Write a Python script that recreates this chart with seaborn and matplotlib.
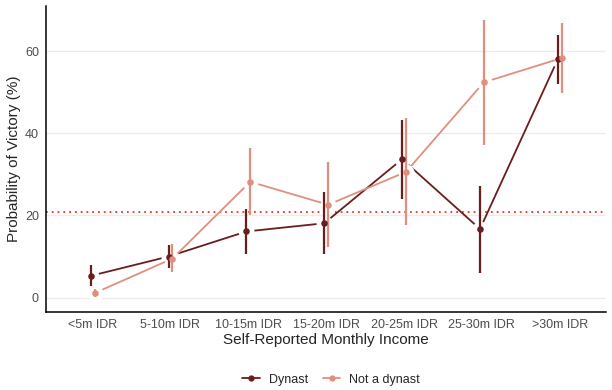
import matplotlib
matplotlib.use('Agg')
import matplotlib.pyplot as plt
from matplotlib.lines import Line2D
import seaborn as sns
import pandas as pd
import numpy as np

# Values
income = ['<5m IDR', '5-10m IDR', '10-15m IDR', '15-20m IDR',
          '20-25m IDR', '25-30m IDR', '>30m IDR']
groups = ['Dynast', 'Not a dynast']
dynast_est = [5.3, 10.0, 16.1, 18.1, 33.7, 16.7, 58.0]
dynast_lo = [2.8, 7.2, 10.6, 10.6, 24.1, 6.0, 52.0]
dynast_hi = [7.9, 12.8, 21.5, 25.8, 43.2, 27.2, 64.0]
other_est = [1.1, 9.5, 28.2, 22.6, 30.6, 52.4, 58.3]
other_lo = [0.1, 6.2, 20.1, 12.2, 17.6, 37.1, 49.8]
other_hi = [2.2, 13.0, 36.3, 32.9, 43.7, 67.6, 66.8]
overall_rate = 20.8
colors = ['#6B1C1C', '#DE8F7E']

df = pd.DataFrame({
    'income': income * 2,
    'group': [groups[0]] * len(income) + [groups[1]] * len(income),
    'prob': dynast_est + other_est,
    'lo': dynast_lo + other_lo,
    'hi': dynast_hi + other_hi,
})

sns.set_style('white')
plt.rcParams['font.family'] = ['Liberation Sans', 'DejaVu Sans']

fig = plt.figure(figsize=(6.12, 3.9), dpi=100)
ax = fig.add_axes([0.075, 0.201, 0.916, 0.784])

# connecting lines; big white markers leave a gap around each point
sns.pointplot(data=df, x='income', y='prob', hue='group', order=income,
              hue_order=groups, palette=colors, dodge=0.05, errorbar=None,
              markers='o', linewidth=1.3, markersize=11.5, legend=False, ax=ax)
for ln in ax.lines:
    ln.set_markerfacecolor('white')
    ln.set_markeredgecolor('white')
    ln.set_markeredgewidth(0)
    ln.set_zorder(2)

# error bars + points at the dodged positions seaborn used
for ln, g, c in zip(list(ax.lines), groups, colors):
    xs = ln.get_xdata()
    sub = df[df.group == g].set_index('income').loc[income]
    ax.vlines(xs, sub['lo'], sub['hi'], color=c, lw=1.6, zorder=3)
    ax.plot(xs, sub['prob'], 'o', color=c, ms=3.7, zorder=4)

ax.axhline(overall_rate, color='#FF2D20', ls=(0, (1, 2.2)), lw=1.3, zorder=1.5)

ax.set_xlim(-0.6, len(income) - 0.4)
ax.set_ylim(-3.4, 71)
ax.set_yticks([0, 20, 40, 60])
ax.yaxis.grid(True, color='#EBEBEB', lw=0.9, zorder=0)
ax.set_axisbelow(True)
for s in ['top', 'right']:
    ax.spines[s].set_visible(False)
for s in ['left', 'bottom']:
    ax.spines[s].set_color('black')
    ax.spines[s].set_linewidth(1.1)
ax.tick_params(axis='both', length=3, width=0.8, color='#333333',
               labelcolor='#4D4D4D', labelsize=9, pad=2)
ax.set_xlabel('Self-Reported Monthly Income', fontsize=11, labelpad=2)
ax.set_ylabel('Probability of Victory (%)', fontsize=11, labelpad=3)

handles = [Line2D([], [], color=c, lw=1.3, marker='o', ms=3.5) for c in colors]
fig.legend(handles, groups, loc='center', bbox_to_anchor=(0.541, 0.026),
           ncol=2, frameon=False, fontsize=9, handlelength=1.4,
           columnspacing=1.2, handletextpad=0.7)

fig.savefig('out.png', dpi=100)
